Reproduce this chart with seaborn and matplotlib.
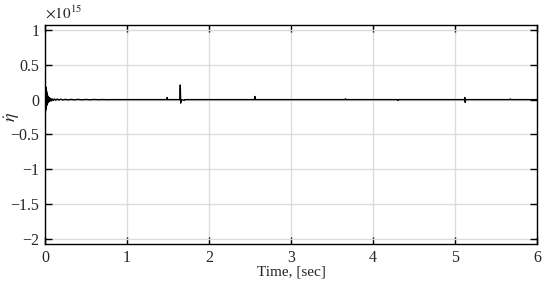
import numpy as np
import pandas as pd
import matplotlib
matplotlib.use("Agg")
import matplotlib.pyplot as plt
import seaborn as sns
from matplotlib.ticker import FuncFormatter

# Signal, values in units of 1e15
t_burst = [0.000, 0.004, 0.008, 0.012, 0.016, 0.020, 0.024, 0.028, 0.033,
           0.038, 0.044, 0.050, 0.057, 0.065, 0.075, 0.085, 0.100, 0.115,
           0.130, 0.150, 0.170, 0.190, 0.220, 0.250, 0.280, 0.320, 0.360,
           0.400, 0.450, 0.500, 0.550, 0.600, 0.650, 0.700, 0.750, 0.800]
v_burst = [0.0, 0.24, -0.16, 0.18, -0.12, 0.12, -0.08, 0.08, -0.05,
           0.05, -0.035, 0.03, -0.025, 0.02, -0.015, 0.012, -0.012, 0.01,
           -0.008, 0.008, -0.006, 0.006, -0.005, 0.004, -0.004, 0.003, -0.003,
           0.003, -0.002, 0.002, -0.002, 0.002, -0.001, 0.001, -0.001, 0.0]

t_spikes = [1.485, 1.490, 1.495, 1.645, 1.650, 1.655, 1.660, 1.700, 1.705,
            2.555, 2.560, 2.565, 3.660, 3.665, 3.670, 4.300, 4.305, 4.310,
            5.115, 5.120, 5.125, 5.130, 5.670, 5.675, 5.680, 6.0]
v_spikes = [0.0, 0.03, 0.0, 0.0, 0.21, -0.05, 0.0, -0.01, 0.0,
            0.0, 0.045, 0.0, 0.0, 0.012, 0.0, 0.0, -0.012, 0.0,
            0.0, 0.03, -0.04, 0.0, 0.0, 0.01, 0.0, 0.0]

x_ticks = [0, 1, 2, 3, 4, 5, 6]
y_ticks = [-2, -1.5, -1, -0.5, 0, 0.5, 1]

df = pd.DataFrame({"t": t_burst + t_spikes,
                   "eta": v_burst + v_spikes})

sns.set_theme(style="ticks")
plt.rcParams["font.family"] = ["Liberation Serif", "DejaVu Serif"]
plt.rcParams["mathtext.fontset"] = "stix"
plt.rcParams["xtick.direction"] = "in"
plt.rcParams["ytick.direction"] = "in"

fig = plt.figure(figsize=(5.5, 2.86), dpi=100)
ax = fig.add_axes([0.0818, 0.147, 0.8945, 0.7656])

sns.lineplot(data=df, x="t", y="eta", color="black", linewidth=1.0,
             estimator=None, sort=False, ax=ax)

ax.set_xlim(0, 6)
ax.set_ylim(-2.07, 1.07)
ax.set_xticks(x_ticks)
ax.set_yticks(y_ticks)
ax.yaxis.set_major_formatter(FuncFormatter(lambda v, p: f"{v:g}".replace("-", "\u2212")))

# scale factor shown above the axis
ax.text(0.0, 1.015, r"$\times10^{15}$", transform=ax.transAxes,
        ha="left", va="bottom", fontsize=11)

ax.grid(True, color="#dcdcdc", linewidth=1.0)
ax.tick_params(axis="both", which="major", labelsize=11.5, length=5,
               width=1, color="black", top=True, right=True, pad=4)
for s in ax.spines.values():
    s.set_linewidth(1.0)
    s.set_color("black")

ax.set_xlabel("Time, [sec]", fontsize=11, labelpad=0)
ax.set_ylabel(r"$\dot{\eta}$", fontsize=13)
ax.yaxis.set_label_coords(-0.047, 0.58)

fig.savefig("out.png", dpi=100)
